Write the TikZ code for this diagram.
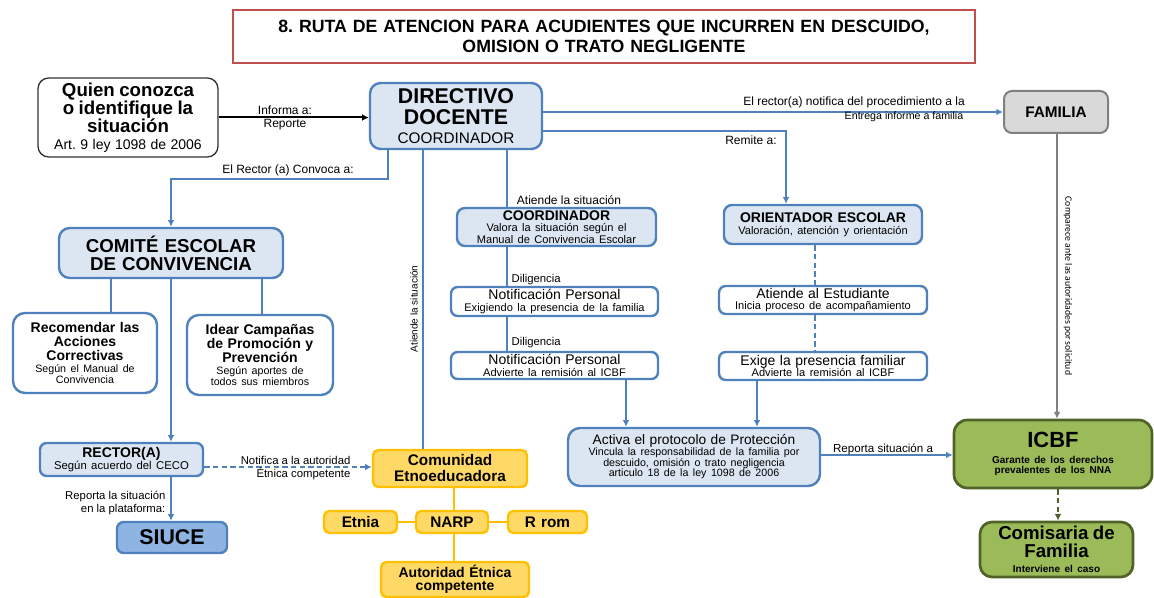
\documentclass[tikz,border=0pt]{standalone}
\usepackage{fontspec}
\setmainfont{Liberation Sans}
\newfontfamily\calibri{Carlito}
\usetikzlibrary{arrows.meta}
\frenchspacing

\definecolor{azul}{HTML}{4F81BD}
\definecolor{azulclaro}{HTML}{DCE6F2}
\definecolor{azulsiuce}{HTML}{8DB4E2}
\definecolor{amarillo}{HTML}{FFD966}
\definecolor{amarilloborde}{HTML}{FFC000}
\definecolor{verde}{HTML}{9BBB59}
\definecolor{verdeborde}{HTML}{4F6228}
\definecolor{gris}{HTML}{D9D9D9}
\definecolor{grisborde}{HTML}{808080}
\definecolor{rojo}{HTML}{C0504D}

\newcommand{\tam}[2]{\fontsize{#1}{#2}\selectfont}

\begin{document}
\begin{tikzpicture}[x=0.75pt, y=-0.75pt, >={Latex[length=5pt,width=5pt]},
    dim/.code 2 args={\pgfmathsetmacro\anchocaja{#1*0.75-2}%
        \tikzset{minimum width=#1*0.75pt, minimum height=#2*0.75pt, text width=\anchocaja pt, align=center}},
    caja/.style={draw=azul, line width=1.8pt, fill=azulclaro, rounded corners=6pt, inner sep=1pt},
    blanca/.style={caja, fill=white},
    amarilla/.style={draw=amarilloborde, line width=1.8pt, fill=amarillo, rounded corners=4pt, inner sep=1pt},
    verdecaja/.style={draw=verdeborde, line width=2pt, fill=verde, rounded corners=9pt, inner sep=1pt},
    linea/.style={azul, line width=1.5pt},
    punteada/.style={dash pattern=on 4pt off 2.5pt},
    etiq/.style={font=\tam{9}{10.5}, inner sep=1pt}]

    \useasboundingbox (0,0) rectangle (1154,598);

    % titulo
    \node[draw=rojo, line width=1.5pt, dim={742}{53}, inner sep=1pt, font=\tam{13.3}{14.5}\bfseries] (titulo) at (604,36.5)
        {8. RUTA DE ATENCION PARA ACUDIENTES QUE INCURREN EN DESCUIDO,\\OMISION O TRATO NEGLIGENTE};

    % fila superior
    \node[draw=black!80, line width=1pt, rounded corners=8pt, fill=white, dim={180}{79}, inner sep=1pt] (quien) at (128,117.5)
        {{\tam{14}{13.5}\bfseries Quien conozca\\o identifique la\\situación\par}{\tam{10.5}{12.5}Art. 9 ley 1098 de 2006\par}};
    \node[caja, dim={172}{66}, rounded corners=8pt] (dir) at (456,116)
        {{\tam{16}{15.75}\bfseries DIRECTIVO\\DOCENTE\par}{\tam{11.5}{14}COORDINADOR\par}};
    \node[draw=grisborde, line width=1.5pt, fill=gris, rounded corners=6pt, inner sep=1pt, dim={104}{42}, font=\tam{11.5}{13}\bfseries] (fam) at (1056,112) {FAMILIA};

    % comite
    \node[caja, dim={224}{50}, rounded corners=8pt, font=\tam{14}{13.5}\bfseries] (comite) at (171,253) {COMITÉ ESCOLAR\\DE CONVIVENCIA};
    \node[blanca, dim={144}{80}, rounded corners=9pt] (recom) at (85,353)
        {{\tam{10.5}{10.5}\bfseries Recomendar las\\Acciones\\Correctivas\par}{\tam{8}{8.5}Según el Manual de\\Convivencia\par}};
    \node[blanca, dim={146}{80}, rounded corners=9pt] (idear) at (260,355)
        {{\tam{10.5}{10.5}\bfseries Idear Campañas\\de Promoción y\\Prevención\par}{\tam{8}{8.5}Según aportes de\\todos sus miembros\par}};
    \node[caja, dim={163}{33}, rounded corners=5pt] (rector) at (121.5,459.5)
        {{\tam{10.5}{11}\bfseries RECTOR(A)\par}{\tam{8.5}{9}Según acuerdo del CECO\par}};
    \node[draw=azul, line width=1.8pt, fill=azulsiuce, rounded corners=5pt, inner sep=1pt, dim={110}{31}, font=\tam{16}{17}\bfseries] (siuce) at (172,537.5) {SIUCE};

    % coordinador
    \node[caja, dim={199}{38}] (coord) at (556.5,227)
        {{\tam{10.5}{11}\bfseries COORDINADOR\par}{\tam{8.3}{8.8}Valora la situación según el\\Manual de Convivencia Escolar\par}};
    \node[blanca, dim={207}{29}, rounded corners=5pt] (notif1) at (554.5,301.5)
        {{\tam{10.5}{11}Notificación Personal\par}{\tam{8.3}{8.5}Exigiendo la presencia de la familia\par}};
    \node[blanca, dim={207}{27}, rounded corners=5pt] (notif2) at (554.5,365.5)
        {{\tam{10.5}{11}Notificación Personal\par}{\tam{8.3}{8.5}Advierte la remisión al ICBF\par}};

    % orientador
    \node[caja, dim={198}{39}] (orient) at (823,224.5)
        {{\tam{10.5}{11}\bfseries ORIENTADOR ESCOLAR\par}{\tam{8.3}{8.8}Valoración, atención y orientación\par}};
    \node[blanca, dim={208}{28}, rounded corners=5pt] (atiende) at (823,300)
        {{\tam{10.5}{11}Atiende al Estudiante\par}{\tam{8.3}{8.5}Inicia proceso de acompañamiento\par}};
    \node[blanca, dim={208}{28}, rounded corners=5pt] (exige) at (823,366)
        {{\tam{10.5}{11}Exige la presencia familiar\par}{\tam{8.3}{8.5}Advierte la remisión al ICBF\par}};

    \node[caja, dim={252}{58}, rounded corners=9pt] (activa) at (694,457)
        {{\tam{10.3}{11}Activa el protocolo de Protección\par}{\tam{8}{8}Vincula la responsabilidad de la familia por\\descuido, omisión o trato negligencia\\articulo 18 de la ley 1098 de 2006\par}};

    % etnoeducacion
    \node[amarilla, dim={154}{37}, font=\tam{11.5}{12}\bfseries] (comun) at (450,468.5) {Comunidad\\Etnoeducadora};
    \node[amarilla, dim={72}{22}, font=\tam{11.5}{12}\bfseries] (narp) at (452,522) {NARP};
    \node[amarilla, dim={73}{22}, font=\tam{11.5}{12}\bfseries] (etnia) at (360.5,522) {Etnia};
    \node[amarilla, dim={79}{22}, font=\tam{11.5}{12}\bfseries] (rrom) at (547.5,522) {R rom};
    \node[amarilla, dim={148}{35}, font=\tam{10.5}{10}\bfseries] (autor) at (455,579.5) {Autoridad Étnica\\competente};

    % autoridades
    \node[verdecaja, dim={198}{68}, rounded corners=10pt] (icbf) at (1053,454)
        {{\tam{16.5}{17}\bfseries ICBF\par}{\tam{7.5}{7.5}\bfseries\rule{0pt}{11pt}Garante de los derechos\\prevalentes de los NNA\par}};
    \node[verdecaja, dim={153}{55}] (comis) at (1056.5,549.5)
        {{\tam{14}{13.5}\bfseries Comisaria de\\Familia\par}{\tam{7.5}{11}\bfseries Interviene el caso\par}};

    % conectores
    \draw[->, line width=1.5pt] (quien.east) -- (quien.east -| dir.west);
    \node[etiq] (l-informa) at (285,110) {Informa a:};
    \node[etiq] (l-reporte) at (285,125) {Reporte};

    \draw[linea, ->] (dir.east |- fam.west) -- (fam.west);
    \node[etiq] (l-notifica) at (854,102) {El rector(a) notifica del procedimiento a la};
    \node[etiq, font=\tam{8}{9}] (l-entrega) at (904,117) {Entrega informe a familia};

    \draw[linea, ->] (dir.east |- 0,131) -| (orient.north -| 786,0);
    \node[etiq] (l-remite) at (751,140) {Remite a:};

    \draw[linea, ->] (dir.south -| 388,0) |- (comite.north |- 0,179) -- (comite.north);
    \node[etiq] (l-convoca) at (288,170) {El Rector (a) Convoca a:};

    \draw[linea] (dir.south -| 423,0) -- (comun.north -| 423,0);
    \node[etiq, font=\tam{7.5}{8}, rotate=90] (l-atiende1) at (414,309) {Atiende la situación};

    \draw[linea] (dir.south -| 507,0) -- (coord.north -| 507,0);
    \node[etiq] (l-atiende2) at (569,200) {Atiende la situación};
    \draw[linea] (coord.south -| 507,0) -- (notif1.north -| 507,0);
    \node[etiq, font=\tam{8.5}{9}, anchor=west] (l-dil1) at (510,280) {Diligencia};
    \draw[linea] (notif1.south -| 507,0) -- (notif2.north -| 507,0);
    \node[etiq, font=\tam{8.5}{9}, anchor=west] (l-dil2) at (510,343) {Diligencia};
    \draw[linea, ->] (notif2.south -| 626,0) -- (activa.north -| 626,0);

    \draw[linea, punteada] (orient.south -| 815,0) -- (atiende.north -| 815,0);
    \draw[linea, punteada] (atiende.south -| 815,0) -- (exige.north -| 815,0);
    \draw[linea, ->] (exige.south -| 757,0) -- (activa.north -| 757,0);

    \draw[linea, ->] (activa.east |- 0,455) -- (icbf.west |- 0,455);
    \node[etiq, font=\tam{8.7}{9}] (l-reporta) at (883,449) {Reporta situación a};

    \draw[grisborde, line width=1.5pt, ->] (fam.south -| 1057,0) -- (icbf.north -| 1057,0);
    \node[inner sep=0pt, font=\calibri\tam{7.3}{8}, rotate=-90] (l-comparece) at (1068,286) {Comparece ante las autoridades por solicitud};
    \draw[verdeborde, line width=1.5pt, punteada, ->] (icbf.south -| 1058,0) -- (comis.north -| 1058,0);

    \draw[linea, ->] (comite.south) -- (rector.north -| comite.south);
    \draw[linea] (comite.south -| 111,0) -- (recom.north -| 111,0);
    \draw[linea] (comite.south -| 262,0) -- (idear.north -| 262,0);

    \draw[linea, ->] (rector.south -| 171,0) -- (siuce.north -| 171,0);
    \node[etiq, font=\tam{8.5}{9.5}, anchor=east, align=right] (l-plataforma) at (167,503) {Reporta la situación\\en la plataforma:};

    \draw[linea, punteada, ->] (rector.east |- 0,467) -- (comun.west |- 0,467);
    \node[etiq, font=\tam{8.5}{9.5}, anchor=east, align=right] (l-etnica) at (352,468) {Notifica a la autoridad\\Étnica competente};

    \draw[amarilloborde, line width=1.8pt] (comun.south -| 454,0) -- (narp.north -| 454,0);
    \draw[amarilloborde, line width=1.8pt] (narp.south -| 454,0) -- (autor.north -| 454,0);
    \draw[amarilloborde, line width=1.8pt] (etnia.east) -- (narp.west);
    \draw[amarilloborde, line width=1.8pt] (narp.east) -- (rrom.west);

\end{tikzpicture}
\end{document}
